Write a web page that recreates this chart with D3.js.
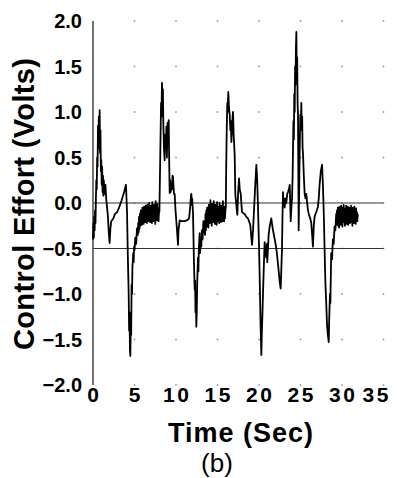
<!DOCTYPE html>
<html>
<head>
<meta charset="utf-8" />
<title>Control effort</title>
<script src="https://d3js.org/d3.v7.min.js"></script>
<style>
  body { margin: 0; background: #fff; }
  svg text { font-family: "Liberation Sans", Arial, Helvetica, sans-serif; fill: #000; }
</style>
</head>
<body>
<div id="chart"></div>
<script>
// tick values
var xTicks = [0, 5, 10, 15, 20, 25, 30, 35];
var yTicks = [2.0, 1.5, 1.0, 0.5, 0.0, -0.5, -1.0, -1.5, -2.0];
var refLines = [0.0, -0.5];

// control effort trace, [time (s), volts]
var rise1 = [[0.0,-0.40],[0.05,-0.22],[0.1,-0.38],[0.15,-0.15],[0.2,-0.30],[0.25,-0.08],[0.3,-0.22],[0.35,0.05],
  [0.4,0.25],[0.45,0.15],[0.5,0.5],[0.55,0.4],[0.6,0.85],[0.65,0.6],[0.7,0.95],[0.75,0.8],[0.8,1.02],[0.85,0.55],
  [0.9,0.8],[0.95,0.35],[1.0,0.47],[1.05,0.2],[1.1,0.4],[1.15,0.12],[1.2,0.3],[1.25,0.08],[1.3,0.25],[1.4,0.1],
  [1.5,0.2],[1.6,0.03],[1.7,-0.05],[1.8,-0.15],[1.9,-0.32],[2.0,-0.44],[2.1,-0.28],[2.2,-0.2],[2.45,-0.17],
  [2.65,-0.12],[2.9,-0.1],[3.1,-0.06],[3.45,0.03],[3.75,0.12],[3.97,0.2],[4.1,-0.1],[4.2,-0.6],[4.3,-1.0],
  [4.35,-1.4],[4.4,-1.2],[4.45,-1.6],[4.5,-1.68],[4.55,-1.3],[4.6,-1.45],[4.65,-0.9],[4.7,-1.0],[4.75,-0.7],
  [4.8,-0.63],[4.85,-0.55],[4.9,-0.65],[4.95,-0.48],[5.0,-0.52],[5.1,-0.38],[5.2,-0.45],[5.3,-0.28],[5.4,-0.35]];

var hold1 = [[5.45,-0.22],[5.5,-0.32],[5.55,-0.15],[5.6,-0.28],[5.65,-0.12],[5.7,-0.25],[5.75,-0.08],[5.8,-0.22],
  [5.85,-0.1],[5.9,-0.24],[5.95,-0.05],[6.0,-0.2],[6.05,-0.09],[6.1,-0.23],[6.15,-0.04],[6.2,-0.19],[6.25,-0.07],
  [6.3,-0.21],[6.35,-0.03],[6.4,-0.18],[6.45,-0.06],[6.5,-0.22],[6.55,-0.02],[6.6,-0.17],[6.65,-0.08],[6.7,-0.2],
  [6.75,0.0],[6.8,-0.16],[6.85,-0.05],[6.9,-0.21],[6.95,-0.03],[7.0,-0.18],[7.05,-0.06],[7.1,-0.22],[7.15,0.01],
  [7.2,-0.15],[7.25,-0.04],[7.3,-0.2],[7.35,-0.02],[7.4,-0.17],[7.45,-0.07],[7.5,-0.23],[7.55,0.02],[7.6,-0.14],
  [7.65,-0.05],[7.7,-0.19],[7.75,-0.01],[7.8,-0.16],[7.85,-0.06],[7.9,-0.2],[7.95,-0.08],[8.0,-0.1]];

var rise2 = [[8.1,0.5],[8.2,1.1],[8.25,0.95],[8.31,1.32],[8.36,1.1],[8.42,1.25],[8.48,0.85],[8.55,0.6],[8.63,0.47],
  [8.7,0.75],[8.78,0.6],[8.84,0.84],[8.9,0.5],[8.98,0.88],[9.05,0.65],[9.12,0.91],[9.18,0.45],[9.24,0.11],
  [9.3,0.25],[9.36,0.12],[9.44,0.2],[9.5,0.15],[9.58,0.3],[9.64,0.29],[9.7,0.18],[9.76,0.1],[9.84,0.1],
  [9.92,-0.05],[10.04,-0.2],[10.12,-0.3],[10.24,-0.46],[10.3,-0.3],[10.44,-0.19],[10.6,-0.2],[11.0,-0.2],
  [11.3,-0.19],[11.5,-0.18],[11.6,-0.15],[11.7,-0.05],[11.8,0.08],[11.85,0.1],[11.9,-0.02],[11.95,0.05],
  [12.05,-0.11],[12.15,-0.6],[12.25,-0.95],[12.3,-0.85],[12.35,-1.2],[12.4,-1.1],[12.45,-1.36],[12.5,-1.2],
  [12.55,-0.9],[12.65,-0.6],[12.7,-0.75],[12.75,-0.5],[12.85,-0.33],[12.9,-0.55],[12.95,-0.4],[13.05,-0.48],
  [13.12,-0.3],[13.2,-0.4],[13.3,-0.2],[13.38,-0.32],[13.45,-0.2]];

var hold2 = [[13.5,-0.35],[13.55,-0.12],[13.6,-0.3],[13.65,-0.08],[13.7,-0.26],[13.75,-0.05],[13.8,-0.24],
  [13.85,-0.1],[13.9,-0.27],[13.95,-0.02],[14.0,-0.2],[14.05,-0.06],[14.1,-0.22],[14.15,0.03],[14.2,-0.18],
  [14.25,-0.07],[14.3,-0.25],[14.35,-0.01],[14.4,-0.17],[14.45,-0.08],[14.5,-0.21],[14.55,0.02],[14.6,-0.15],
  [14.65,-0.05],[14.7,-0.23],[14.75,-0.02],[14.8,-0.18],[14.85,-0.09],[14.9,-0.24],[14.95,0.01],[15.0,-0.16],
  [15.05,-0.04],[15.1,-0.2],[15.15,-0.06],[15.2,-0.22],[15.25,0.0],[15.3,-0.17],[15.35,-0.07],[15.4,-0.21],
  [15.45,-0.03],[15.5,-0.19],[15.55,-0.05],[15.6,-0.2],[15.65,0.02],[15.7,-0.15],[15.75,-0.06],[15.8,-0.2],
  [15.85,-0.04],[15.9,-0.17],[15.95,-0.08],[16.0,-0.05]];

var rise3 = [[16.05,0.4],[16.12,0.85],[16.18,1.1],[16.22,1.0],[16.3,1.22],[16.38,1.05],[16.47,0.97],[16.55,0.8],
  [16.62,0.9],[16.67,0.67],[16.75,0.8],[16.82,0.95],[16.87,1.0],[16.95,0.75],[17.07,0.53],[17.15,0.09],
  [17.25,0.0],[17.39,-0.13],[17.48,0.1],[17.59,0.27],[17.68,0.15],[17.8,0.1],[17.95,-0.1],[18.1,-0.11],
  [18.27,-0.12],[18.45,-0.15],[18.67,-0.17],[18.8,-0.2],[18.95,-0.24],[19.05,-0.35],[19.16,-0.46],[19.28,-0.3],
  [19.4,-0.08],[19.55,0.2],[19.68,0.42],[19.78,0.25],[19.88,-0.05],[19.98,-0.4],[20.08,-0.8],[20.18,-1.3],
  [20.28,-1.67],[20.35,-1.4],[20.42,-1.2],[20.48,-1.0],[20.58,-0.7],[20.68,-0.43],[20.78,-0.55],[20.88,-0.6],
  [20.95,-0.45],[21.0,-0.65],[21.08,-0.5],[21.16,-0.35],[21.3,-0.25],[21.48,-0.17],[21.6,-0.25],[21.69,-0.3],
  [21.9,-0.4],[22.09,-0.5],[22.3,-0.68],[22.49,-0.86],[22.61,-0.94],[22.7,-0.7],[22.77,-0.5],[22.83,-0.15],
  [22.89,0.12],[22.95,0.0],[23.0,0.05],[23.09,-0.05],[23.2,0.05],[23.29,0.0],[23.4,0.1],[23.49,0.12],
  [23.6,0.15],[23.7,0.2],[23.76,0.0],[23.82,-0.2],[23.9,-0.05],[23.98,0.05]];

var rise4 = [[24.05,0.3],[24.1,0.6],[24.15,0.9],[24.2,0.7],[24.25,1.2],[24.3,1.0],[24.35,1.5],[24.4,1.3],
  [24.45,1.7],[24.5,1.88],[24.55,1.4],[24.6,1.6],[24.65,1.1],[24.7,0.97],[24.74,0.3],[24.78,-0.3],[24.85,0.2],
  [24.92,0.7],[24.98,0.97],[25.05,0.85],[25.1,1.1],[25.15,0.8],[25.2,0.95],[25.25,0.6],[25.3,0.55],[25.4,0.3],
  [25.5,0.1],[25.6,0.05],[25.7,0.1],[25.8,0.0],[25.9,-0.08],[26.0,-0.12],[26.1,-0.15],[26.2,-0.18],
  [26.3,-0.22],[26.4,-0.35],[26.5,-0.48],[26.6,-0.25],[26.7,-0.15],[26.8,-0.12],[26.9,-0.1],[27.1,-0.04],
  [27.2,0.05],[27.3,0.2],[27.45,0.35],[27.6,0.42],[27.7,0.2],[27.8,-0.1],[27.9,-0.5],[28.0,-0.88],[28.1,-1.1],
  [28.2,-1.35],[28.3,-1.45],[28.4,-1.53],[28.45,-1.3],[28.55,-1.0],[28.6,-1.1],[28.7,-0.55],[28.8,-0.62],
  [28.9,-0.4],[29.0,-0.45],[29.1,-0.26],[29.2,-0.3],[29.3,-0.12]];

var hold4 = [[29.35,-0.24],[29.4,-0.08],[29.45,-0.22],[29.5,-0.05],[29.55,-0.25],[29.6,-0.1],[29.65,-0.27],
  [29.7,-0.04],[29.75,-0.2],[29.8,-0.07],[29.85,-0.24],[29.9,-0.03],[29.95,-0.19],[30.0,-0.09],[30.05,-0.26],
  [30.1,-0.05],[30.15,-0.21],[30.2,-0.02],[30.25,-0.18],[30.3,-0.08],[30.35,-0.25],[30.4,-0.06],[30.45,-0.2],
  [30.5,-0.03],[30.55,-0.23],[30.6,-0.07],[30.65,-0.19],[30.7,-0.04],[30.75,-0.24],[30.8,-0.1],[30.85,-0.2],
  [30.9,-0.05],[30.95,-0.22],[31.0,-0.06],[31.05,-0.18],[31.1,-0.03],[31.15,-0.21],[31.2,-0.08],[31.25,-0.25],
  [31.3,-0.05],[31.35,-0.19],[31.4,-0.07],[31.45,-0.22],[31.5,-0.04],[31.55,-0.2],[31.6,-0.09],[31.65,-0.23],
  [31.7,-0.06],[31.75,-0.18],[31.8,-0.1],[31.85,-0.2],[31.9,-0.12]];

var trace = [].concat(rise1, hold1, rise2, hold2, rise3, rise4, hold4);

var width = 397, height = 478;
var svg = d3.select("#chart").append("svg")
  .attr("width", width)
  .attr("height", height);

var x = d3.scaleLinear().domain([0, 35]).range([93, 383.5]);
var y = d3.scaleLinear().domain([-2, 2]).range([385, 21]);

// grid dots at tick crossings
var dots = [];
xTicks.slice(1).forEach(function (tx) {
  yTicks.forEach(function (ty) { dots.push([tx, ty]); });
});
svg.append("g").selectAll("rect")
  .data(dots)
  .enter().append("rect")
  .attr("x", function (d) { return x(d[0]) - 0.75; })
  .attr("y", function (d) { return y(d[1]) - 0.75; })
  .attr("width", 1.5)
  .attr("height", 1.5)
  .attr("fill", "#888");

// reference lines at 0 and -0.5
svg.append("g").selectAll("line")
  .data(refLines)
  .enter().append("line")
  .attr("x1", x(0)).attr("x2", x(35))
  .attr("y1", function (d) { return y(d); })
  .attr("y2", function (d) { return y(d); })
  .attr("stroke", "#333")
  .attr("stroke-width", 1);

// left axis line
svg.append("line")
  .attr("x1", x(0)).attr("x2", x(0))
  .attr("y1", y(2)).attr("y2", y(-2))
  .attr("stroke", "#444")
  .attr("stroke-width", 1.5);

// the trace
var line = d3.line()
  .x(function (d) { return x(d[0]); })
  .y(function (d) { return y(d[1]); });

svg.append("path")
  .datum(trace)
  .attr("d", line)
  .attr("fill", "none")
  .attr("stroke", "#000")
  .attr("stroke-width", 1.8)
  .attr("stroke-linejoin", "round");

// y tick labels
svg.append("g").selectAll("text")
  .data(yTicks)
  .enter().append("text")
  .attr("x", 82)
  .attr("y", function (d) { return y(d) + 7; })
  .attr("text-anchor", "end")
  .style("font-size", "20px")
  .style("font-weight", "bold")
  .text(function (d) { return d3.format(".1f")(d); });

// x tick labels (last one pulled in to fit)
svg.append("g").selectAll("text")
  .data(xTicks)
  .enter().append("text")
  .attr("x", function (d) { return d === 35 ? x(d) + 5 : x(d); })
  .attr("y", 402)
  .attr("text-anchor", function (d) { return d === 35 ? "end" : "middle"; })
  .attr("textLength", function (d) { return d >= 10 ? 26 : null; })
  .attr("lengthAdjust", "spacing")
  .style("font-size", "21px")
  .style("font-weight", "bold")
  .text(function (d) { return d; });

// axis titles
svg.append("text")
  .attr("x", 240.5)
  .attr("y", 442)
  .attr("text-anchor", "middle")
  .attr("textLength", 145)
  .attr("lengthAdjust", "spacing")
  .style("font-size", "27px")
  .style("font-weight", "bold")
  .text("Time (Sec)");

svg.append("text")
  .attr("transform", "translate(34,204) rotate(-90)")
  .attr("text-anchor", "middle")
  .attr("textLength", 292)
  .attr("lengthAdjust", "spacing")
  .style("font-size", "29px")
  .style("font-weight", "bold")
  .text("Control Effort (Volts)");

svg.append("text")
  .attr("x", 217)
  .attr("y", 472)
  .attr("text-anchor", "middle")
  .style("font-size", "26px")
  .text("(b)");
</script>
</body>
</html>
